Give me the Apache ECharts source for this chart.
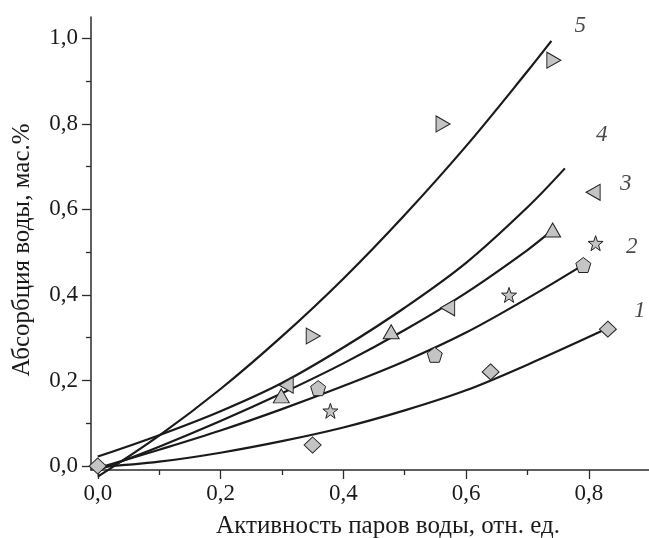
<!DOCTYPE html>
<html>
<head>
<meta charset="utf-8">
<script src="https://cdn.jsdelivr.net/npm/echarts@6/dist/echarts.min.js"></script>
<style>html,body{margin:0;padding:0;background:#fff}#c{width:649px;height:538px}</style>
</head>
<body>
<div id="c"></div>
<script>
// ---- data ----
const xTickLabels = [0, 0.2, 0.4, 0.6, 0.8];
const xMinorTicks = [0.1, 0.3, 0.5, 0.7];
const yTickLabels = [0, 0.2, 0.4, 0.6, 0.8, 1.0];
const yMinorTicks = [0.1, 0.3, 0.5, 0.7, 0.9];

const curveLabels = ['1', '2', '3', '4', '5'];

// fitted curves
const curve1X = [0, 0.1, 0.2, 0.3, 0.4, 0.5, 0.6, 0.7, 0.82];
const curve1Y = [-0.003, 0.010, 0.031, 0.058, 0.090, 0.130, 0.177, 0.237, 0.315];
const curve2X = [0, 0.1, 0.2, 0.3, 0.4, 0.5, 0.6, 0.7, 0.785];
const curve2Y = [-0.005, 0.038, 0.083, 0.133, 0.187, 0.245, 0.312, 0.392, 0.465];
const curve3X = [0, 0.1, 0.2, 0.3, 0.4, 0.5, 0.6, 0.7, 0.741];
const curve3Y = [-0.010, 0.045, 0.105, 0.170, 0.240, 0.318, 0.405, 0.505, 0.552];
const curve4X = [0, 0.1, 0.2, 0.3, 0.4, 0.5, 0.6, 0.7, 0.761];
const curve4Y = [0.022, 0.072, 0.128, 0.194, 0.277, 0.370, 0.475, 0.605, 0.696];
const curve5X = [0, 0.1, 0.2, 0.3, 0.4, 0.5, 0.6, 0.7, 0.739];
const curve5Y = [-0.025, 0.071, 0.180, 0.303, 0.438, 0.587, 0.748, 0.923, 0.994];

// measured points
const diamondX  = [0, 0.350, 0.640, 0.831];
const diamondY  = [0, 0.049, 0.220, 0.320];
const pentagonX = [0.359, 0.549, 0.791];
const pentagonY = [0.182, 0.260, 0.470];
const starX     = [0.379, 0.670, 0.811];
const starY     = [0.129, 0.400, 0.521];
const triUpX    = [0.299, 0.478, 0.741];
const triUpY    = [0.164, 0.314, 0.552];
const triLeftX  = [0.307, 0.570, 0.807];
const triLeftY  = [0.189, 0.370, 0.640];
const triRightX = [0.351, 0.5625, 0.743];
const triRightY = [0.304, 0.800, 0.949];

// label anchor positions (data coords)
const labelX = [0.883, 0.870, 0.860, 0.821, 0.786];
const labelY = [0.362, 0.512, 0.660, 0.775, 1.030];

// ---- chart ----
const zip = (xs, ys) => xs.map((x, i) => [x, ys[i]]);
const X_MIN = -0.011, X_MAX = 0.898, Y_MIN = -0.0094, Y_MAX = 1.05;
const fmt = v => (Math.round(v * 10) / 10).toFixed(1).replace('.', ',');
const FONT = 'Liberation Serif';
const AX = '#2b2b2b';
const FILL = '#c4c4c4';
const TXT = '#1a1a1a';

const PENTAGON = 'path://M0,-10 L9.51,-3.09 L5.88,8.09 L-5.88,8.09 L-9.51,-3.09 Z';
const STAR = 'path://M0,-10 L2.35,-3.24 L9.51,-3.09 L3.80,1.24 L5.88,8.09 L0,4 L-5.88,8.09 L-3.80,1.24 L-9.51,-3.09 L-2.35,-3.24 Z';

function lineSeries(xs, ys) {
  return {
    type: 'line', data: zip(xs, ys), smooth: 0.35, showSymbol: false, clip: false,
    lineStyle: { color: '#1a1a1a', width: 2.2 }, z: 2, silent: true
  };
}
function scatterSeries(xs, ys, symbol, size, rot) {
  return {
    type: 'scatter', data: zip(xs, ys), symbol: symbol, symbolSize: size,
    symbolRotate: rot || 0, clip: false,
    itemStyle: { color: FILL, borderColor: '#222', borderWidth: 1, opacity: 1 }, z: 5, silent: true
  };
}

const baseX = {
  type: 'value', min: X_MIN, max: X_MAX, gridIndex: 0,
  splitLine: { show: false }
};
const baseY = {
  type: 'value', min: Y_MIN, max: Y_MAX, gridIndex: 0,
  splitLine: { show: false }
};

const option = {
  animation: false,
  backgroundColor: '#fff',
  grid: { left: 91, right: 0, top: 17, bottom: 68, containLabel: false },
  xAxis: [
    Object.assign({}, baseX, {
      position: 'bottom',
      axisLine: { show: true, onZero: false, lineStyle: { color: AX, width: 1.5 } },
      axisTick: { show: true, inside: false, length: 9, customValues: xTickLabels, lineStyle: { color: AX, width: 1.3 } },
      axisLabel: { show: true, customValues: xTickLabels, formatter: fmt, margin: 12,
        fontFamily: FONT, fontSize: 23, color: TXT }
    }),
    Object.assign({}, baseX, {
      position: 'bottom',
      axisLine: { show: false, onZero: false },
      axisTick: { show: true, inside: false, length: 5, customValues: xMinorTicks, lineStyle: { color: AX, width: 1.3 } },
      axisLabel: { show: false }
    })
  ],
  yAxis: [
    Object.assign({}, baseY, {
      position: 'left',
      axisLine: { show: true, onZero: false, lineStyle: { color: AX, width: 1.5 } },
      axisTick: { show: true, inside: false, length: 9, customValues: yTickLabels, lineStyle: { color: AX, width: 1.3 } },
      axisLabel: { show: true, customValues: yTickLabels, formatter: fmt, margin: 13,
        fontFamily: FONT, fontSize: 23, color: TXT }
    }),
    Object.assign({}, baseY, {
      position: 'left',
      axisLine: { show: false, onZero: false },
      axisTick: { show: true, inside: false, length: 5, customValues: yMinorTicks, lineStyle: { color: AX, width: 1.3 } },
      axisLabel: { show: false }
    })
  ],
  graphic: [
    { type: 'text', x: 388, y: 526, style: { text: 'Активность паров воды, отн. ед.', font: '25px "Liberation Serif"', fill: TXT,
      textAlign: 'center', textVerticalAlign: 'middle' } },
    { type: 'text', x: 22, y: 250, rotation: Math.PI / 2,
      style: { text: 'Абсорбция воды, мас.%', font: '25px "Liberation Serif"', fill: TXT,
        textAlign: 'center', textVerticalAlign: 'middle' } }
  ],
  series: [
    lineSeries(curve1X, curve1Y),
    lineSeries(curve2X, curve2Y),
    lineSeries(curve3X, curve3Y),
    lineSeries(curve4X, curve4Y),
    lineSeries(curve5X, curve5Y),
    scatterSeries(pentagonX, pentagonY, PENTAGON, 15),
    scatterSeries(starX, starY, STAR, 15),
    scatterSeries(triUpX, triUpY, 'triangle', [16, 14], 0),
    scatterSeries(triLeftX, triLeftY, 'triangle', [16, 14], 90),
    scatterSeries(triRightX, triRightY, 'triangle', [16, 14], -90),
    scatterSeries(diamondX, diamondY, 'diamond', [17, 16]),
    {
      type: 'scatter', symbolSize: 0, clip: false, silent: true, z: 6,
      data: labelX.map((x, i) => ({ value: [x, labelY[i]], name: curveLabels[i] })),
      label: { show: true, position: 'inside', formatter: p => p.name,
        fontFamily: FONT, fontStyle: 'italic', fontSize: 23, color: TXT }
    }
  ]
};

const chart = echarts.init(document.getElementById('c'), null, { renderer: 'canvas' });
chart.setOption(option);
</script>
</body>
</html>
